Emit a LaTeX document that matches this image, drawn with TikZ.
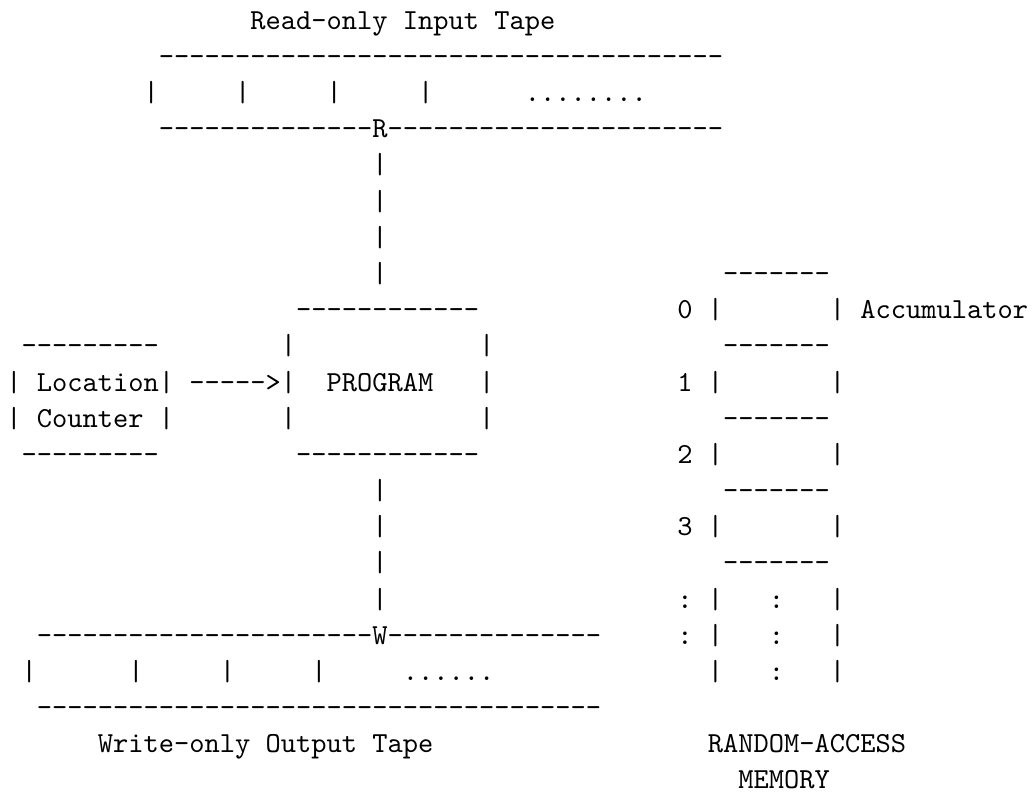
\documentclass[tikz,border=0pt]{standalone}
\usepackage{fontspec}
\setmonofont{lmmono10-regular.otf}

% every character sits on a fixed typewriter grid:
% column width 7.625pt, line pitch 18.09pt
\tikzset{
  ascii/.style={anchor=base west, inner sep=0pt, outer sep=0pt,
    font=\fontsize{14.52pt}{18pt}\selectfont\ttfamily, text=black},
}
% \glyphs{name}{column}{line}{text}
\newcommand\glyphs[4]{%
  \node[ascii] (#1) at ({3.2pt+#2*7.625pt},{-14.6pt-#3*18.09pt}) {#4};}
% a run of n hyphens
\newcommand\dashes[1]{\foreach\k in {1,...,#1}{-}}

\begin{document}
\begin{tikzpicture}
\fill[white] (0,0) rectangle (517.5pt,-396.5pt);
\useasboundingbox (0,0) rectangle (517.5pt,-396.5pt);

% ---- read-only input tape
\glyphs{inTitle}{16}{0}{Read-only Input Tape}
\glyphs{inTop}{10}{1}{\dashes{37}}
\foreach \c [count=\i] in {9,15,21,27} {\glyphs{inCell\i}{\c}{2}{|}}
\glyphs{inMore}{34}{2}{........}
\glyphs{inBotL}{10}{3}{\dashes{14}}
\glyphs{readHead}{24}{3}{R}
\glyphs{inBotR}{25}{3}{\dashes{22}}

% ---- link from read head down to the program
\foreach \r in {4,...,7} {\glyphs{readLink\r}{24}{\r}{|}}

% ---- program box
\glyphs{progTop}{19}{8}{\dashes{12}}
\foreach \r in {9,10,11} {\glyphs{progL\r}{18}{\r}{|}\glyphs{progR\r}{31}{\r}{|}}
\glyphs{progName}{21}{10}{PROGRAM}
\glyphs{progBot}{19}{12}{\dashes{12}}

% ---- location counter and its arrow
\glyphs{lcTop}{1}{9}{\dashes{9}}
\glyphs{lcLine1}{0}{10}{| Location|}
\glyphs{lcLine2}{0}{11}{| Counter |}
\glyphs{lcBot}{1}{12}{\dashes{9}}
\glyphs{lcArrow}{12}{10}{----->}

% ---- link from the program down to the write head
\foreach \r in {13,...,16} {\glyphs{writeLink\r}{24}{\r}{|}}

% ---- write-only output tape
\glyphs{outTopL}{2}{17}{\dashes{22}}
\glyphs{writeHead}{24}{17}{W}
\glyphs{outTopR}{25}{17}{\dashes{14}}
\foreach \c [count=\i] in {1,8,14,20} {\glyphs{outCell\i}{\c}{18}{|}}
\glyphs{outMore}{26}{18}{......}
\glyphs{outBot}{2}{19}{\dashes{37}}
\glyphs{outTitle}{6}{20}{Write-only Output Tape}

% ---- random-access memory
\foreach \r in {7,9,11,13,15} {\glyphs{memSep\r}{47}{\r}{\dashes{7}}}
\foreach \n/\r in {0/8,1/10,2/12,3/14} {%
  \glyphs{memAddr\n}{44}{\r}{\n}%
  \glyphs{memL\n}{46}{\r}{|}%
  \glyphs{memR\n}{54}{\r}{|}}
\glyphs{accLabel}{56}{8}{Accumulator}
\foreach \r in {16,17} {%
  \glyphs{memAddrDots\r}{44}{\r}{:}%
  \glyphs{memLd\r}{46}{\r}{|}%
  \glyphs{memDots\r}{50}{\r}{:}%
  \glyphs{memRd\r}{54}{\r}{|}}
\glyphs{memLd18}{46}{18}{|}
\glyphs{memDots18}{50}{18}{:}
\glyphs{memRd18}{54}{18}{|}
\glyphs{memTitle1}{46}{20}{RANDOM-ACCESS}
\glyphs{memTitle2}{48}{21}{MEMORY}
\end{tikzpicture}
\end{document}
